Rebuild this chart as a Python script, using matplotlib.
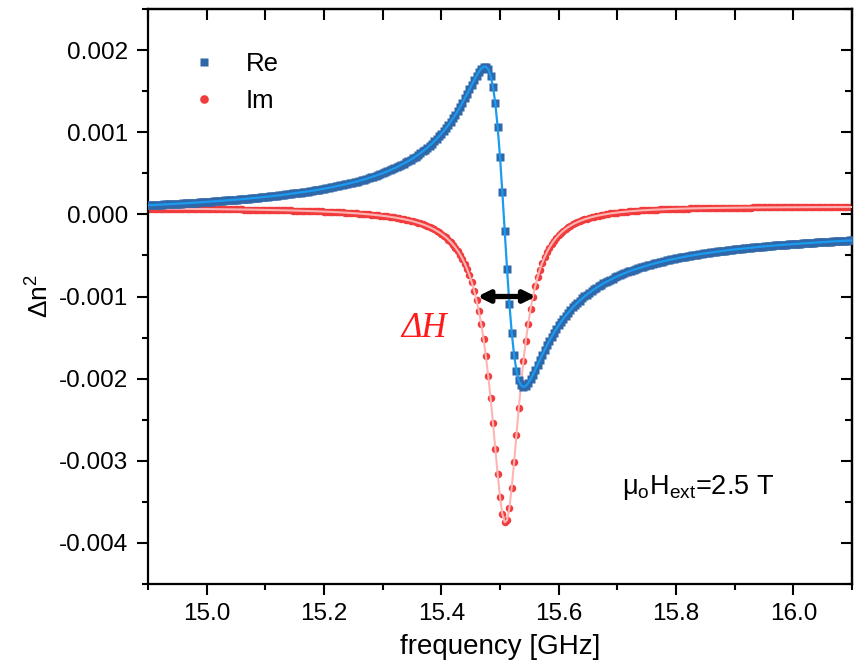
import numpy as np
import matplotlib
matplotlib.use("Agg")
import matplotlib.pyplot as plt
from matplotlib.ticker import MultipleLocator, FormatStrFormatter

# ---------------------------------------------------------------------------
# Measured permittivity change around the FMR line (values in units of 1e-3)
# Frequency sweep: 14.9 GHz -> 16.1 GHz, 4 MHz step
# ---------------------------------------------------------------------------
sweep_start_ghz = 14.9
sweep_stop_ghz = 16.1

re_e3 = [
    0.111, 0.112, 0.114, 0.115, 0.116, 0.118, 0.119, 0.121, 0.122, 0.124,
    0.126, 0.127, 0.129, 0.130, 0.132, 0.134, 0.135, 0.137, 0.139, 0.141,
    0.142, 0.144, 0.146, 0.148, 0.150, 0.152, 0.154, 0.156, 0.158, 0.160,
    0.162, 0.164, 0.166, 0.169, 0.171, 0.173, 0.176, 0.178, 0.180, 0.183,
    0.185, 0.188, 0.190, 0.193, 0.196, 0.198, 0.201, 0.204, 0.207, 0.210,
    0.213, 0.216, 0.219, 0.222, 0.225, 0.229, 0.232, 0.235, 0.239, 0.242,
    0.246, 0.250, 0.254, 0.258, 0.262, 0.266, 0.270, 0.274, 0.278, 0.283,
    0.287, 0.292, 0.297, 0.302, 0.307, 0.312, 0.317, 0.323, 0.328, 0.334,
    0.340, 0.346, 0.352, 0.358, 0.365, 0.372, 0.378, 0.386, 0.393, 0.400,
    0.408, 0.416, 0.424, 0.433, 0.442, 0.451, 0.460, 0.470, 0.480, 0.490,
    0.501, 0.512, 0.524, 0.536, 0.548, 0.561, 0.574, 0.589, 0.603, 0.618,
    0.634, 0.650, 0.667, 0.685, 0.704, 0.724, 0.744, 0.766, 0.788, 0.812,
    0.837, 0.862, 0.890, 0.919, 0.949, 0.982, 1.014, 1.051, 1.088, 1.128,
    1.171, 1.213, 1.261, 1.308, 1.361, 1.413, 1.467, 1.523, 1.580, 1.636,
    1.689, 1.736, 1.774, 1.797, 1.798, 1.766, 1.690, 1.555, 1.350, 1.064,
    0.699, 0.267,
    -0.200,
    -0.665, -1.088, -1.441, -1.712, -1.902, -2.021, -2.082, -2.101, -2.088,
    -2.055, -2.008, -1.953, -1.893, -1.832, -1.770, -1.709, -1.652, -1.596, -1.539,
    -1.490, -1.440, -1.395, -1.351, -1.309, -1.270, -1.233, -1.199, -1.165, -1.133,
    -1.104, -1.075, -1.049, -1.024, -0.999, -0.976, -0.954, -0.934, -0.913, -0.894,
    -0.876, -0.858, -0.841, -0.826, -0.810, -0.795, -0.781, -0.767, -0.754, -0.742,
    -0.729, -0.717, -0.706, -0.695, -0.685, -0.674, -0.665, -0.655, -0.646, -0.637,
    -0.628, -0.620, -0.612, -0.604, -0.596, -0.589, -0.582, -0.575, -0.568, -0.561,
    -0.555, -0.549, -0.542, -0.537, -0.531, -0.525, -0.520, -0.514, -0.509, -0.504,
    -0.499, -0.494, -0.489, -0.485, -0.480, -0.476, -0.472, -0.468, -0.463, -0.459,
    -0.455, -0.452, -0.448, -0.444, -0.440, -0.437, -0.433, -0.430, -0.427, -0.424,
    -0.420, -0.417, -0.414, -0.411, -0.408, -0.405, -0.402, -0.400, -0.397, -0.394,
    -0.392, -0.389, -0.386, -0.384, -0.381, -0.379, -0.377, -0.374, -0.372, -0.370,
    -0.367, -0.365, -0.363, -0.361, -0.359, -0.357, -0.355, -0.353, -0.351, -0.349,
    -0.347, -0.345, -0.343, -0.341, -0.340, -0.338, -0.336, -0.334, -0.333, -0.331,
    -0.329, -0.328, -0.326, -0.325, -0.323, -0.322, -0.320, -0.318, -0.317,
]

im_e3 = [
    0.0708, 0.0706, 0.0704, 0.0702, 0.0700, 0.0698, 0.0696, 0.0694, 0.0691, 0.0689,
    0.0687, 0.0685, 0.0682, 0.0680, 0.0677, 0.0675, 0.0672, 0.0670, 0.0667, 0.0665,
    0.0662, 0.0659, 0.0656, 0.0653, 0.0650, 0.0647, 0.0644, 0.0641, 0.0638, 0.0635,
    0.0631, 0.0628, 0.0624, 0.0621, 0.0617, 0.0613, 0.0609, 0.0605, 0.0601, 0.0597,
    0.0593, 0.0589, 0.0584, 0.0580, 0.0575, 0.0570, 0.0565, 0.0560, 0.0555, 0.0550,
    0.0544, 0.0539, 0.0533, 0.0527, 0.0521, 0.0515, 0.0508, 0.0502, 0.0495, 0.0488,
    0.0481, 0.0473, 0.0466, 0.0458, 0.0450, 0.0441, 0.0433, 0.0424, 0.0415, 0.0405,
    0.0395, 0.0385, 0.0375, 0.0364, 0.0352, 0.0341, 0.0329, 0.0316, 0.0303, 0.0290,
    0.0276, 0.0261, 0.0246, 0.0230, 0.0214, 0.0197, 0.0179, 0.0160, 0.0141, 0.0121,
    0.0100, 0.0078, 0.0055, 0.0030, 0.0005, -0.0021, -0.0049, -0.0078, -0.0109, -0.0141,
    -0.0175, -0.0211, -0.0249, -0.0289, -0.0331, -0.0376, -0.0424, -0.0474, -0.0527, -0.0584,
    -0.0645, -0.0710, -0.0779, -0.0853, -0.0932, -0.1017, -0.1109, -0.1207, -0.1314, -0.1429,
    -0.1554, -0.1689, -0.1837, -0.1998, -0.2174, -0.2367, -0.2580, -0.2814, -0.3074, -0.3362,
    -0.3683, -0.4042, -0.4445, -0.4899, -0.5412, -0.5994, -0.6658, -0.7418, -0.8291, -0.9298,
    -1.0462, -1.1813, -1.3380, -1.5198, -1.7296, -1.9698, -2.2406, -2.5380, -2.8517, -3.1621,
    -3.4393, -3.6464, -3.7482,
    -3.7234, -3.5748, -3.3274, -3.0185, -2.6858, -2.3580, -2.0531, -1.7798, -1.5406, -1.3339,
    -1.1569, -1.0058, -0.8767, -0.7665, -0.6719, -0.5906, -0.5205, -0.4596, -0.4067, -0.3604,
    -0.3197, -0.2839, -0.2522, -0.2241, -0.1990, -0.1765, -0.1564, -0.1383, -0.1220, -0.1072,
    -0.0937, -0.0815, -0.0703, -0.0602, -0.0508, -0.0422, -0.0343, -0.0271, -0.0203, -0.0141,
    -0.0084, -0.0030, 0.0019, 0.0066, 0.0109, 0.0149, 0.0187, 0.0222, 0.0255, 0.0286,
    0.0315, 0.0343, 0.0368, 0.0393, 0.0416, 0.0437, 0.0458, 0.0477, 0.0495, 0.0513,
    0.0529, 0.0545, 0.0559, 0.0573, 0.0587, 0.0600, 0.0612, 0.0623, 0.0634, 0.0645,
    0.0655, 0.0664, 0.0673, 0.0682, 0.0690, 0.0698, 0.0706, 0.0713, 0.0720, 0.0727,
    0.0734, 0.0740, 0.0746, 0.0751, 0.0757, 0.0762, 0.0767, 0.0772, 0.0777, 0.0781,
    0.0786, 0.0790, 0.0794, 0.0798, 0.0802, 0.0805, 0.0809, 0.0812, 0.0815, 0.0819,
    0.0822, 0.0825, 0.0827, 0.0830, 0.0833, 0.0835, 0.0838, 0.0840, 0.0843, 0.0845,
    0.0847, 0.0849, 0.0851, 0.0853, 0.0855, 0.0857, 0.0859, 0.0860, 0.0862, 0.0864,
    0.0865, 0.0867, 0.0868, 0.0870, 0.0871, 0.0873, 0.0874, 0.0875, 0.0877, 0.0878,
    0.0879, 0.0880, 0.0881, 0.0882, 0.0883, 0.0884, 0.0885, 0.0886, 0.0887, 0.0888,
    0.0889, 0.0890, 0.0891, 0.0892, 0.0893, 0.0893, 0.0894, 0.0895,
]

# linewidth marker: Im = -0.001 crossings (GHz)
dh_left_ghz = 15.4616
dh_right_ghz = 15.5611
dh_level = -0.001

field_label = r"$\mathrm{μ_{o}H_{ext}}$=2.5 T"

# ---------------------------------------------------------------------------
plt.rcParams["font.family"] = ["Liberation Sans", "DejaVu Sans"]
plt.rcParams["mathtext.fontset"] = "custom"
plt.rcParams["mathtext.rm"] = "Liberation Sans"
plt.rcParams["mathtext.it"] = "Liberation Sans:italic"
plt.rcParams["axes.unicode_minus"] = False

RE_MARK = "#2F67A8"
RE_LINE = "#1A9BF0"
IM_MARK = "#F03C3C"
IM_LINE = "#FFB4B4"

freq = np.linspace(sweep_start_ghz, sweep_stop_ghz, len(re_e3))
re = np.asarray(re_e3) * 1e-3
im = np.asarray(im_e3) * 1e-3

fig = plt.figure(figsize=(8.56, 6.69), dpi=100)
W, H = 856, 669
ax = fig.add_axes([148 / W, 1 - 584 / H, (852 - 148) / W, (584 - 9) / H])

ax.plot(freq, im, ls="none", marker="o", ms=5.4, color=IM_MARK, mec="none",
        label="Im", zorder=2)
ax.plot(freq, im, color=IM_LINE, lw=1.5, zorder=3)
ax.plot(freq, re, ls="none", marker="s", ms=5.4, color=RE_MARK, mec="none",
        label="Re", zorder=4)
ax.plot(freq, re, color=RE_LINE, lw=1.6, zorder=5)

ax.set_xlim(14.9, 16.1)
ax.set_ylim(-0.0045, 0.0025)

ax.xaxis.set_major_locator(MultipleLocator(0.2))
ax.xaxis.set_minor_locator(MultipleLocator(0.1))
ax.yaxis.set_major_locator(MultipleLocator(0.001))
ax.yaxis.set_minor_locator(MultipleLocator(0.0005))
ax.xaxis.set_major_formatter(FormatStrFormatter("%.1f"))
ax.yaxis.set_major_formatter(FormatStrFormatter("%.3f"))

ax.tick_params(which="major", direction="out", length=8, width=1.5,
               labelsize=17.5, colors="black", pad=6)
ax.tick_params(which="minor", direction="out", length=4, width=1.5)
for s in ax.spines.values():
    s.set_linewidth(1.6)

secx = ax.secondary_xaxis("top")
secx.xaxis.set_major_locator(MultipleLocator(0.1))
secx.tick_params(direction="in", length=8, width=1.5, labeltop=False)
secy = ax.secondary_yaxis("right")
secy.yaxis.set_major_locator(MultipleLocator(0.001))
secy.yaxis.set_minor_locator(MultipleLocator(0.0005))
secy.tick_params(which="major", direction="in", length=8, width=1.5, labelright=False)
secy.tick_params(which="minor", direction="in", length=5, width=1.5)
for sa in (secx, secy):
    for s in sa.spines.values():
        s.set_linewidth(1.6)

ax.set_xlabel("frequency [GHz]", fontsize=20, labelpad=6)
ax.set_ylabel("Δn$^{\\mathrm{2}}$", fontsize=19, labelpad=4)

handles, labels = ax.get_legend_handles_labels()
order = [labels.index("Re"), labels.index("Im")]
ax.legend([handles[i] for i in order], [labels[i] for i in order],
          loc="upper left", bbox_to_anchor=(0.04, 0.947), frameon=False,
          fontsize=18.5, handlelength=1.2, handletextpad=1.0, labelspacing=0.5,
          borderpad=0, markerscale=1.15)

ax.annotate("", xy=(dh_right_ghz, dh_level), xytext=(dh_left_ghz, dh_level),
            arrowprops=dict(arrowstyle="<|-|>", color="black", lw=3.8,
                            mutation_scale=17, shrinkA=0, shrinkB=0), zorder=6)
ax.text(15.371, -0.00139, "ΔH", color="#FF1A1A", fontsize=25,
        family="Liberation Serif", style="italic", ha="center", va="center")
ax.text(15.708, -0.00341, field_label, fontsize=19.5, ha="left", va="baseline")

fig.savefig("out.png", dpi=100, facecolor="white")
